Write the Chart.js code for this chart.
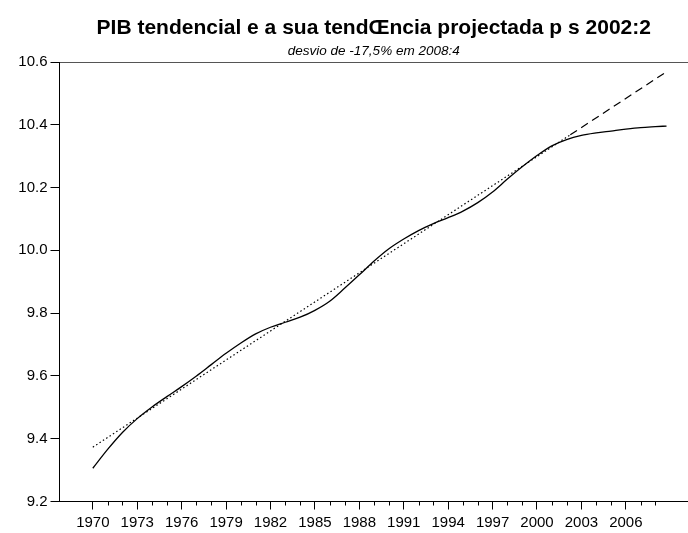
<!DOCTYPE html>
<html>
<head>
<meta charset="utf-8">
<script src="https://cdn.jsdelivr.net/npm/chart.js@4/dist/chart.umd.min.js"></script>
<style>
html, body { margin: 0; padding: 0; background: #fff; }
#wrap { width: 688px; height: 533px; }
</style>
</head>
<body>
<div id="wrap"><canvas id="pibChart" width="688" height="533"></canvas></div>
<script>
// PIB tendencial (log) e tendencia linear projectada
const titleText = 'PIB tendencial e a sua tendŒncia projectada p s 2002:2';
const subtitleText = 'desvio de -17,5% em 2008:4';

const trendYears = [1970, 1971, 1972, 1973, 1974, 1975, 1976, 1977, 1978, 1979,
  1980, 1981, 1982, 1983, 1984, 1985, 1986, 1987, 1988, 1989,
  1990, 1991, 1992, 1993, 1994, 1995, 1996, 1997, 1998, 1999,
  2000, 2001, 2002, 2003, 2004, 2005, 2006, 2007, 2008, 2008.75];
const trendValues = [9.306, 9.366, 9.420, 9.464, 9.501, 9.534, 9.566, 9.600, 9.636, 9.672,
  9.705, 9.734, 9.755, 9.771, 9.787, 9.809, 9.838, 9.879, 9.922, 9.966,
  10.005, 10.036, 10.063, 10.085, 10.104, 10.125, 10.152, 10.186, 10.227, 10.266,
  10.302, 10.333, 10.353, 10.366, 10.374, 10.380, 10.386, 10.391, 10.394, 10.396];

// tendencia ate 2002:2 (pontilhado) e projeccao (tracejado)
const fitYears = [1970, 2002.25];
const fitValues = [9.373, 10.368];
const projYears = [2002.25, 2008.75];
const projValues = [10.368, 10.569];

const majorYears = [1970, 1973, 1976, 1979, 1982, 1985, 1988, 1991, 1994, 1997, 2000, 2003, 2006];
const minorYears = [1970, 1971, 1972, 1973, 1974, 1975, 1976, 1977, 1978, 1979,
  1980, 1981, 1982, 1983, 1984, 1985, 1986, 1987, 1988, 1989,
  1990, 1991, 1992, 1993, 1994, 1995, 1996, 1997, 1998, 1999,
  2000, 2001, 2002, 2003, 2004, 2005, 2006, 2007, 2008];
const yTicks = [9.2, 9.4, 9.6, 9.8, 10.0, 10.2, 10.4, 10.6];

const toPoints = (xs, ys) => xs.map((x, i) => ({ x: x, y: ys[i] }));
const fontFam = '"Liberation Sans", Arial, Helvetica, sans-serif';

// marcas menores do eixo x (anos)
const minorTicks = {
  id: 'minorTicks',
  afterDraw(chart) {
    const sx = chart.scales.x;
    const ctx = chart.ctx;
    const y0 = sx.top;
    ctx.save();
    ctx.strokeStyle = '#000';
    ctx.lineWidth = 1;
    minorYears.forEach(v => {
      if (majorYears.includes(v)) return;
      const px = Math.round(sx.getPixelForValue(v)) + 0.5;
      ctx.beginPath();
      ctx.moveTo(px, y0);
      ctx.lineTo(px, y0 + 4);
      ctx.stroke();
    });
    ctx.restore();
  }
};

// titulo e subtitulo centrados sobre a area do grafico
const titles = {
  id: 'titles',
  afterDraw(chart) {
    const { ctx, chartArea } = chart;
    const cx = (chartArea.left + chartArea.right) / 2;
    ctx.save();
    ctx.fillStyle = '#000';
    ctx.textAlign = 'center';
    ctx.textBaseline = 'middle';
    ctx.font = 'bold 21px ' + fontFam;
    ctx.fillText(titleText, cx, 28);
    ctx.font = 'italic 13.5px ' + fontFam;
    ctx.fillText(subtitleText, cx, 51);
    ctx.restore();
  }
};

new Chart(document.getElementById('pibChart'), {
  type: 'line',
  data: {
    datasets: [
      {
        label: 'PIB tendencial',
        data: toPoints(trendYears, trendValues),
        borderColor: '#000',
        borderWidth: 1.3,
        pointRadius: 0,
        cubicInterpolationMode: 'monotone',
        fill: false
      },
      {
        label: 'tendencia',
        data: toPoints(fitYears, fitValues),
        borderColor: '#000',
        borderWidth: 1.2,
        borderDash: [1.5, 2.5],
        pointRadius: 0,
        fill: false
      },
      {
        label: 'projeccao',
        data: toPoints(projYears, projValues),
        borderColor: '#000',
        borderWidth: 1.2,
        borderDash: [8, 5],
        pointRadius: 0,
        fill: false
      }
    ]
  },
  options: {
    responsive: false,
    animation: false,
    layout: { padding: { left: 8, right: 0, top: 62, bottom: 0 } },
    plugins: {
      legend: { display: false },
      tooltip: { enabled: false },
      title: { display: false },
      subtitle: { display: false }
    },
    scales: {
      x: {
        type: 'linear',
        min: 1967.75,
        max: 2010.2,
        afterBuildTicks: (scale) => { scale.ticks = majorYears.map(v => ({ value: v })); },
        afterFit: (scale) => { scale.height = 31.5; },
        ticks: {
          autoSkip: false,
          maxRotation: 0,
          color: '#000',
          padding: 4,
          font: { family: fontFam, size: 15 },
          callback: (v) => String(v)
        },
        grid: { drawOnChartArea: false, tickLength: 8, tickColor: '#000' },
        border: { color: '#000', width: 1 }
      },
      y: {
        min: 9.2,
        max: 10.6,
        afterBuildTicks: (scale) => { scale.ticks = yTicks.map(v => ({ value: v })); },
        afterFit: (scale) => { scale.width = 51.5; },
        ticks: {
          color: '#000',
          padding: 3,
          font: { family: fontFam, size: 15 },
          callback: (v) => Number(v).toFixed(1)
        },
        grid: {
          drawOnChartArea: true,
          color: (c) => (c.tick && Math.abs(c.tick.value - 10.6) < 1e-6) ? '#555' : 'rgba(0,0,0,0)',
          tickColor: '#000',
          tickLength: 9
        },
        border: { color: '#000', width: 1 }
      }
    }
  },
  plugins: [minorTicks, titles]
});
</script>
</body>
</html>
